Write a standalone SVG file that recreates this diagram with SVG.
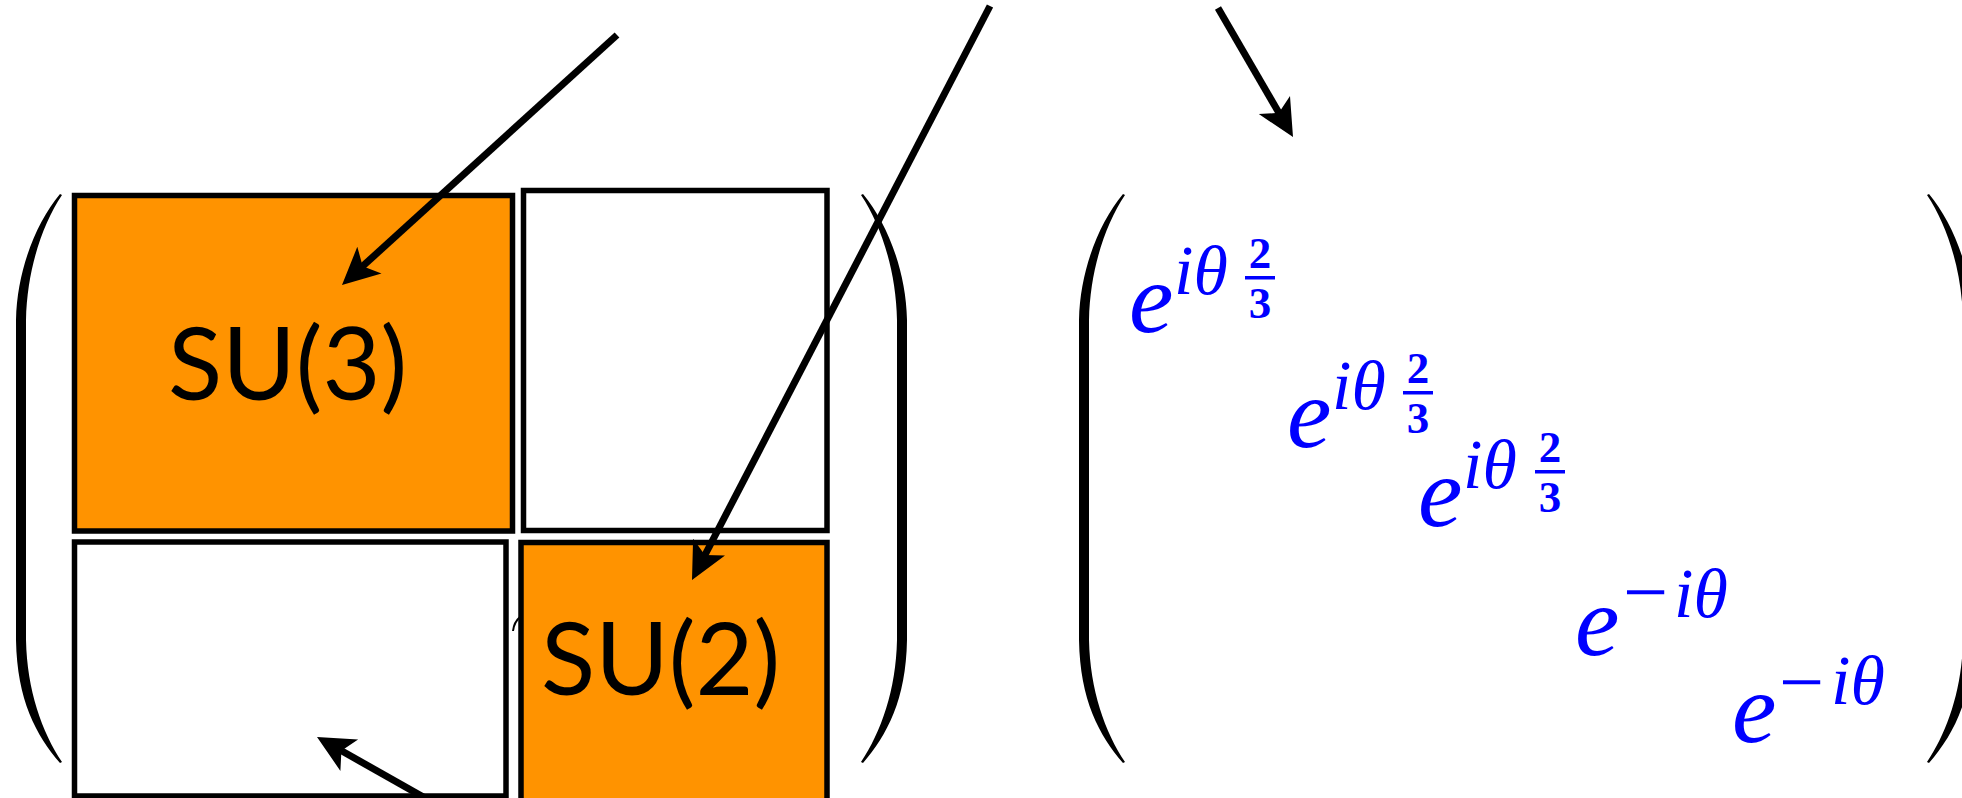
<svg xmlns="http://www.w3.org/2000/svg" width="1962" height="798" viewBox="0 0 1962 798">
<style>
.blk{fill:#ff9300;stroke:#000;stroke-width:5.5}
.wht{fill:#fff;stroke:#000;stroke-width:5.5}
.lbl{font-family:Lato,"Open Sans","Liberation Sans",sans-serif;font-size:100px;fill:#000}
.arr{fill:none;stroke:#000;stroke-width:7}
.head{fill:#000;stroke:none}
.m{fill:#0000ff;font-family:"Liberation Serif","DejaVu Serif",serif;font-style:italic}
.e{font-size:100px}
.sup{font-size:70px}
.dig{font-family:"Liberation Serif","DejaVu Serif",serif;font-size:45px;font-style:normal;font-weight:bold;text-anchor:middle}
.minus{font-size:80px;font-style:normal}
.par{fill:#000}
</style>
<defs>
<path id="paren" d="M 2,0 C -18,30 -33,75 -34,125 L -34,445 C -33,495 -18,537 2,567 L 0,568 C -24,540 -43,505 -44,445 L -44,125 C -43,75 -24,28 0,-1 Z"/>
</defs>
<rect width="1962" height="798" fill="#fff"/>
<g id="parens">
<use href="#paren" class="par" transform="translate(60,195)"/>
<use href="#paren" class="par" transform="translate(863,195) scale(-1,1)"/>
<use href="#paren" class="par" transform="translate(1123,195)"/>
<use href="#paren" class="par" transform="translate(1929,195) scale(-1,1)"/>
</g>
<g id="su3">
<rect class="blk" x="74.5" y="195.5" width="438" height="335.5"/>
<text class="lbl" x="168" y="400">SU(3)</text>
</g>
<g id="topright">
<rect class="wht" x="523.5" y="190.5" width="303.5" height="340"/>
</g>
<g id="bottomleft">
<rect class="wht" x="74.5" y="542" width="431.5" height="254"/>
</g>
<g id="su2">
<rect class="blk" x="521" y="542.5" width="306" height="300"/>
<text class="lbl" x="541" y="695">SU(2)</text>
</g>
<path d="M513,631 Q514,622 520,617" fill="none" stroke="#000" stroke-width="2"/>
<g id="connectors">
<line class="arr" x1="617" y1="35" x2="358.3" y2="270.2"/>
<polygon class="head" points="342,285 357.3,246.8 362.7,266.2 381.5,273.4"/>
<line class="arr" x1="990" y1="6" x2="702.1" y2="560.5"/>
<polygon class="head" points="692,580 693.1,538.8 704.9,555.1 725,555.4"/>
<line class="arr" x1="1218" y1="8" x2="1281.9" y2="118"/>
<polygon class="head" points="1293,137 1258.8,114.1 1278.9,112.8 1290,96"/>
<line class="arr" x1="464" y1="820" x2="336.2" y2="747.8"/>
<polygon class="head" points="317,737 358.1,739.5 341.4,750.8 340.4,770.9"/>
</g>
<g id="entry1" class="m">
<text class="e" x="1129" y="332">e</text>
<text class="sup" x="1174" y="294">iθ</text>
<rect x="1245" y="276" width="30" height="3.5" fill="#0000ff"/>
<text class="dig" x="1260" y="268">2</text>
<text class="dig" x="1260" y="318">3</text>
</g>
<g id="entry2" class="m">
<text class="e" x="1287" y="447">e</text>
<text class="sup" x="1332" y="409">iθ</text>
<rect x="1403" y="391" width="30" height="3.5" fill="#0000ff"/>
<text class="dig" x="1418" y="383">2</text>
<text class="dig" x="1418" y="433">3</text>
</g>
<g id="entry3" class="m">
<text class="e" x="1418" y="526">e</text>
<text class="sup" x="1463" y="488">iθ</text>
<rect x="1535" y="470" width="30" height="3.5" fill="#0000ff"/>
<text class="dig" x="1550" y="462">2</text>
<text class="dig" x="1550" y="512">3</text>
</g>
<g id="entry4" class="m">
<text class="e" x="1575" y="655">e</text>
<text class="minus" x="1623" y="619">−</text>
<text class="sup" x="1674" y="617">iθ</text>
</g>
<g id="entry5" class="m">
<text class="e" x="1732" y="742">e</text>
<text class="minus" x="1779" y="709">−</text>
<text class="sup" x="1831" y="704">iθ</text>
</g>
</svg>
